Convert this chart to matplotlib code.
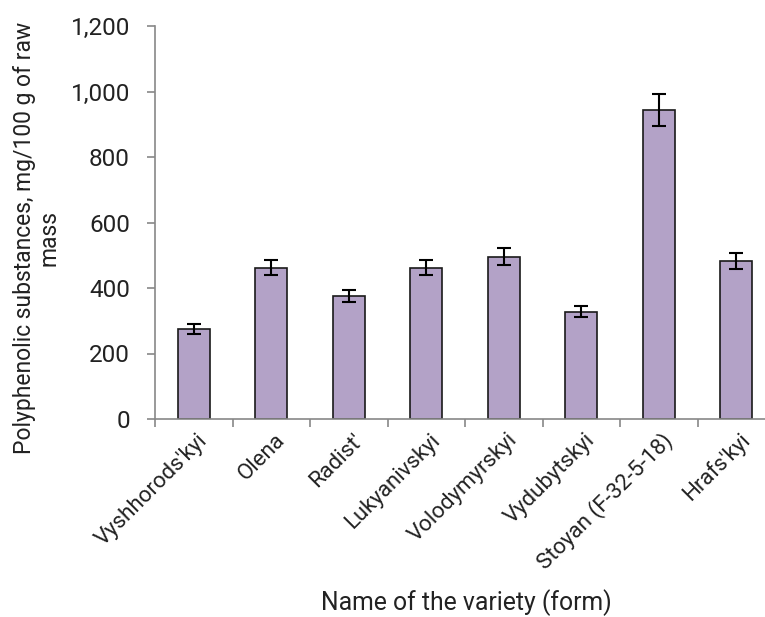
import matplotlib
matplotlib.use("Agg")
import matplotlib.pyplot as plt
from matplotlib.transforms import ScaledTranslation

plt.rcParams['font.family'] = ['Roboto', 'DejaVu Sans']

categories = ["Vyshhorods'kyi", "Olena", "Radist'", "Lukyanivskyi", "Volodymyrskyi",
              "Vydubytskyi", "Stoyan (F-32-5-18)", "Hrafs'kyi"]
values = [275, 462, 375, 462, 496, 328, 943, 482]
errors = [14, 23, 19, 23, 25, 17, 48, 25]
yticks = [0, 200, 400, 600, 800, 1000, 1200]

fig = plt.figure(figsize=(7.65, 6.17), dpi=100)
ax = fig.add_axes([155/765, 1-419/617, 620/765, 393/617])

x = list(range(len(categories)))
ax.bar(x, values, width=0.41, color='#b3a2c7', edgecolor='#1a1a1a', linewidth=1.2,
       yerr=errors, error_kw=dict(ecolor='black', elinewidth=1.5, capsize=5, capthick=1.5),
       zorder=2)

ax.set_xlim(-0.5, len(categories) - 0.5)
ax.set_ylim(0, 1200)
ax.set_yticks(yticks)
ax.set_yticklabels([f"{v:,}" for v in yticks], fontsize=17.5, color='#222222')

ax.set_xticks(x)
ax.set_xticklabels(categories, rotation=45, ha='right', va='center', rotation_mode='anchor',
                   fontsize=16, color='#222222')
ax.tick_params(axis='x', length=0, pad=13)
ax.set_xticks([i - 0.5 for i in range(len(categories) + 1)], minor=True)
ax.tick_params(axis='x', which='minor', length=6, color='#888888', width=1.2)
ax.tick_params(axis='y', length=6, color='#888888', width=1.2, pad=12)

offset = ScaledTranslation(11/100, 0, fig.dpi_scale_trans)
for lbl in ax.get_xticklabels():
    lbl.set_transform(lbl.get_transform() + offset)

for s in ['top', 'right']:
    ax.spines[s].set_visible(False)
for s in ['left', 'bottom']:
    ax.spines[s].set_color('#888888')
    ax.spines[s].set_linewidth(1.2)

ax.set_ylabel("Polyphenolic substances, mg/100 g of raw\nmass", fontsize=16.5, color='#222222',
              linespacing=1.1, va='center', ha='center')
ax.set_xlabel("Name of the variety (form)", fontsize=17.8, color='#222222', va='center')
ax.xaxis.set_label_coords((466-155)/620, -(603-419)/393)
ax.yaxis.set_label_coords(-(155-37)/620, (419-238)/393)

fig.savefig("out.png", dpi=100)
